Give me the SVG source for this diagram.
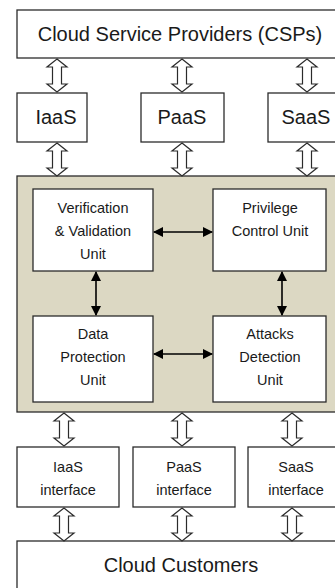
<svg xmlns="http://www.w3.org/2000/svg" width="335" height="588" viewBox="0 0 335 588">
<style>
.box{fill:#fff;stroke:#2b2b2b;stroke-width:1.3}
.big{font-family:"Liberation Sans",Arial,sans-serif;font-size:20px;fill:#1a1a1a;text-anchor:middle}
.sm{font-family:"Liberation Sans",Arial,sans-serif;font-size:14.5px;fill:#1a1a1a;text-anchor:middle}
.hol{fill:#fff;stroke:#2b2b2b;stroke-width:1.2;stroke-linejoin:miter}
.blk{stroke:#000;stroke-width:1.6;fill:none;marker-start:url(#ah);marker-end:url(#ah)}
</style>
<defs>
<path id="dbl" d="M0,0 L10,8 L4.5,8 L4.5,25 L10,25 L0,33 L-10,25 L-4.5,25 L-4.5,8 L-10,8 Z"/>
<marker id="ah" viewBox="0 0 10 10" refX="9" refY="5" markerWidth="10" markerHeight="10" markerUnits="userSpaceOnUse" orient="auto-start-reverse">
<path d="M0,0 L10,5 L0,10 Z" fill="#000"/>
</marker>
</defs>
<g id="csp"><rect class="box" x="17" y="10" width="330" height="48"/><text class="big" x="180" y="41">Cloud Service Providers (CSPs)</text></g>
<g id="iaas"><rect class="box" x="17" y="93" width="70" height="49"/><text class="big" x="56" y="124">IaaS</text></g>
<g id="paas"><rect class="box" x="141" y="93" width="83" height="49"/><text class="big" x="182" y="124">PaaS</text></g>
<g id="saas"><rect class="box" x="268" y="93" width="80" height="49"/><text class="big" x="306" y="124">SaaS</text></g>
<g id="core"><rect x="17" y="176" width="330" height="236" fill="#dcd8c3" stroke="#2b2b2b" stroke-width="1.3"/></g>
<g id="vv"><rect class="box" x="33" y="189" width="120" height="82"/><text class="sm" x="93" y="213">Verification</text><text class="sm" x="93" y="236">&amp; Validation</text><text class="sm" x="93" y="259">Unit</text></g>
<g id="pc"><rect class="box" x="213" y="189" width="113" height="82"/><text class="sm" x="270" y="213">Privilege</text><text class="sm" x="270" y="236">Control Unit</text></g>
<g id="dp"><rect class="box" x="33" y="316" width="120" height="86"/><text class="sm" x="93" y="339">Data</text><text class="sm" x="93" y="362">Protection</text><text class="sm" x="93" y="385">Unit</text></g>
<g id="ad"><rect class="box" x="213" y="316" width="113" height="86"/><text class="sm" x="270" y="339">Attacks</text><text class="sm" x="270" y="362">Detection</text><text class="sm" x="270" y="385">Unit</text></g>
<g id="iaasi"><rect class="box" x="17" y="447" width="102" height="60"/><text class="sm" x="68" y="472">IaaS</text><text class="sm" x="68" y="495">interface</text></g>
<g id="paasi"><rect class="box" x="133" y="447" width="102" height="60"/><text class="sm" x="184" y="472">PaaS</text><text class="sm" x="184" y="495">interface</text></g>
<g id="saasi"><rect class="box" x="248" y="447" width="100" height="60"/><text class="sm" x="296" y="472">SaaS</text><text class="sm" x="296" y="495">interface</text></g>
<g id="cc"><rect class="box" x="17" y="541" width="330" height="60"/><text class="big" x="181" y="572">Cloud Customers</text></g>
<g id="connectors">
<use href="#dbl" class="hol" x="57" y="59"/>
<use href="#dbl" class="hol" x="182" y="59"/>
<use href="#dbl" class="hol" x="307" y="59"/>
<use href="#dbl" class="hol" x="57" y="143"/>
<use href="#dbl" class="hol" x="182" y="143"/>
<use href="#dbl" class="hol" x="307" y="143"/>
<use href="#dbl" class="hol" x="64" y="413"/>
<use href="#dbl" class="hol" x="182" y="413"/>
<use href="#dbl" class="hol" x="292" y="413"/>
<use href="#dbl" class="hol" x="64" y="508"/>
<use href="#dbl" class="hol" x="182" y="508"/>
<use href="#dbl" class="hol" x="292" y="508"/>
<line class="blk" x1="154" y1="232" x2="212" y2="232"/>
<line class="blk" x1="154" y1="354" x2="212" y2="354"/>
<line class="blk" x1="96" y1="272" x2="96" y2="315"/>
<line class="blk" x1="282" y1="272" x2="282" y2="315"/>
</g>
</svg>
